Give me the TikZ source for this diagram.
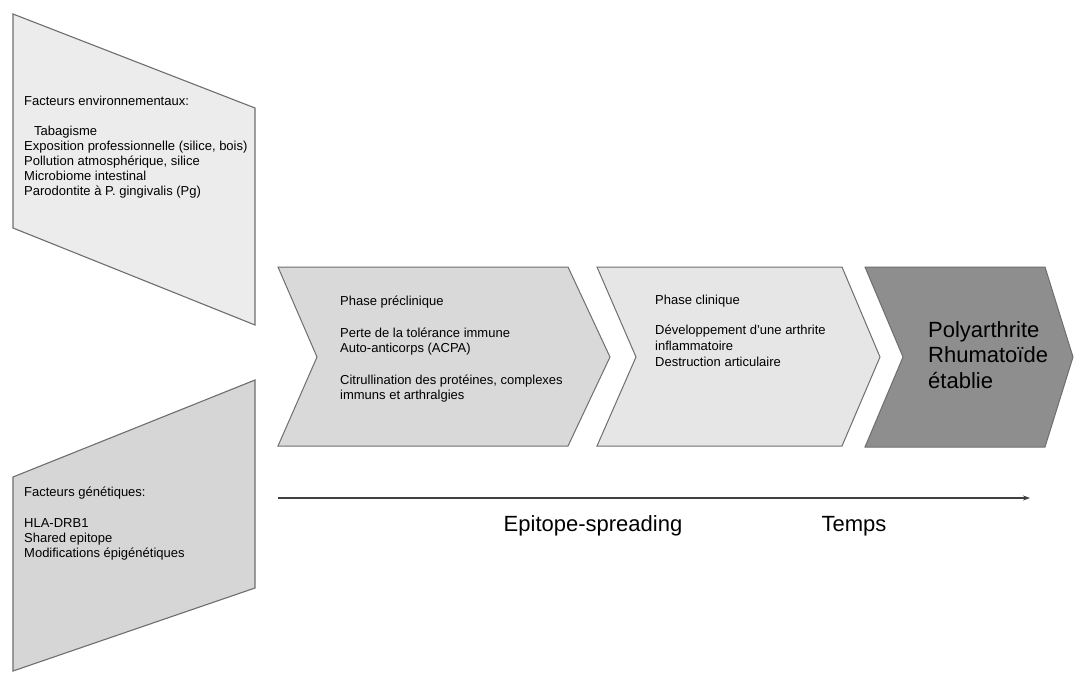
\documentclass[tikz,border=0pt]{standalone}
\usepackage{fontspec}
\setmainfont{Liberation Sans}
\usetikzlibrary{arrows.meta}
\definecolor{panelA}{HTML}{ECECEC}
\definecolor{panelB}{HTML}{D6D6D6}
\definecolor{chevA}{HTML}{D9D9D9}
\definecolor{chevB}{HTML}{E6E6E6}
\definecolor{chevC}{HTML}{8E8E8E}
\definecolor{edge}{HTML}{6E6E6E}
\tikzset{
  panel/.style={draw=edge, line width=1.1pt, line join=miter},
  chev/.style={draw=edge, line width=1pt, line join=miter},
  smalltxt/.style={anchor=north west, inner sep=0pt, align=left,
    font=\fontsize{13}{15}\selectfont},
  bigtxt/.style={anchor=north west, inner sep=0pt, align=left,
    font=\fontsize{22}{25.5}\selectfont},
  axistxt/.style={anchor=base, inner sep=0pt, font=\fontsize{22}{26}\selectfont},
}
\begin{document}
\begin{tikzpicture}[x=1pt,y=-1pt]
\useasboundingbox (0,0) rectangle (1074,675);
\fill[white] (0,0) rectangle (1074,675);

% left panels: environmental and genetic factors
\draw[panel, fill=panelA] (13,14) -- (255,108) -- (255,325) -- (13,228) -- cycle;
\draw[panel, fill=panelB] (13,477) -- (255,380) -- (255,588) -- (13,671) -- cycle;

\node[smalltxt] (env) at (24,96) {Facteurs environnementaux:\\[15pt]
\hspace*{10pt}Tabagisme\\
Exposition professionnelle (silice, bois)\\
Pollution atmosphérique, silice\\
Microbiome intestinal\\
Parodontite à P. gingivalis (Pg)};

\node[smalltxt] (gen) at (24,487) {Facteurs génétiques:\\[16pt]
HLA-DRB1\\
Shared epitope\\
Modifications épigénétiques};

% chevrons along the time course
\draw[chev, fill=chevA] (278,267) -- (568,267) -- (610,357) -- (568,446) -- (278,446) -- (317,357) -- cycle;
\draw[chev, fill=chevB] (597,267) -- (842,267) -- (880,357) -- (842,446) -- (597,446) -- (636,357) -- cycle;
\draw[chev, fill=chevC] (865,267) -- (1045,267) -- (1073,357) -- (1045,447) -- (865,447) -- (903,357) -- cycle;

\node[smalltxt] (pre) at (340,296) {Phase préclinique\\[17pt]
Perte de la tolérance immune\\
Auto-anticorps (ACPA)\\[17pt]
Citrullination des protéines, complexes\\
immuns et arthralgies};

\node[smalltxt] (cli) at (655,295) {Phase clinique\\[15pt]
Développement d'une arthrite\\[1pt]
inflammatoire\\[1pt]
Destruction articulaire};

\node[bigtxt] (pr) at (928,321) {Polyarthrite\\Rhumatoïde\\établie};

% time axis
\coordinate (t0) at (278,498);
\coordinate (t1) at (1030,498);
\draw[line width=1.3pt, draw=black!75, -{Stealth[length=7pt,width=5pt]}] (t0) -- (t1);
\node[axistxt] (eps) at (593,531) {Epitope-spreading};
\node[axistxt] (tps) at (854,531) {Temps};
\end{tikzpicture}
\end{document}
